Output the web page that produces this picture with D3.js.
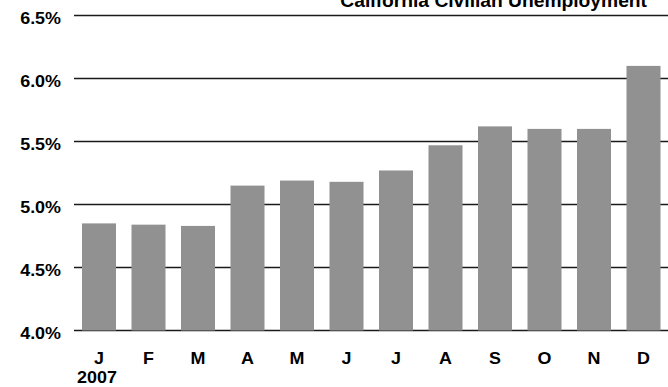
<!DOCTYPE html>
<html>
<head>
<meta charset="utf-8">
<script src="https://cdn.jsdelivr.net/npm/d3@7"></script>
<style>
  html, body { margin: 0; padding: 0; background: #fff; }
  svg { display: block; }
  text { font-family: "Liberation Sans", Arial, sans-serif; font-weight: bold; fill: #000; }
</style>
</head>
<body>
<svg id="chart" width="668" height="387"></svg>
<script>
// California civilian unemployment rate by month, 2007 (percent)
const months = ["J", "F", "M", "A", "M", "J", "J", "A", "S", "O", "N", "D"];
const monthKeys = ["Jan", "Feb", "Mar", "Apr", "May", "Jun", "Jul", "Aug", "Sep", "Oct", "Nov", "Dec"];
const rates = [4.85, 4.84, 4.83, 5.15, 5.19, 5.18, 5.27, 5.47, 5.62, 5.60, 5.60, 6.10];
const yTicks = [4.0, 4.5, 5.0, 5.5, 6.0, 6.5];
const yearLabel = "2007";
const title = "California Civilian Unemployment";

const svg = d3.select("#chart");
const stretch = 1.12; // horizontal stretch applied to the axis labels

const x = d3.scaleBand()
  .domain(monthKeys)
  .range([74.25, 668.25])
  .paddingInner(0.313)
  .paddingOuter(0.1565);

const y = d3.scaleLinear()
  .domain([4.0, 6.5])
  .range([330.5, 15.5]);

// horizontal gridlines
svg.append("g")
  .selectAll("line")
  .data(yTicks)
  .join("line")
  .attr("x1", 74)
  .attr("x2", 668)
  .attr("y1", d => y(d))
  .attr("y2", d => y(d))
  .attr("stroke", "#1a1a1a")
  .attr("stroke-width", 1.3);

// bars
svg.append("g")
  .selectAll("rect")
  .data(rates)
  .join("rect")
  .attr("x", (d, i) => x(monthKeys[i]))
  .attr("width", x.bandwidth())
  .attr("y", d => y(d))
  .attr("height", d => y(4.0) - y(d))
  .attr("fill", "#919191");

// y-axis labels
svg.append("g")
  .selectAll("g")
  .data(yTicks)
  .join("g")
  .attr("transform", d => `translate(61,${y(d) + 8}) scale(${stretch},1)`)
  .append("text")
  .attr("text-anchor", "end")
  .attr("font-size", 16)
  .text(d => d3.format(".1f")(d) + "%");

// month labels
svg.append("g")
  .selectAll("g")
  .data(months)
  .join("g")
  .attr("transform", (d, i) => `translate(${x(monthKeys[i]) + x.bandwidth() / 2},363.5) scale(${stretch},1)`)
  .append("text")
  .attr("text-anchor", "middle")
  .attr("font-size", 16)
  .text(d => d);

// year under the first month
svg.append("g")
  .attr("transform", `translate(${x(monthKeys[0]) + x.bandwidth() / 2 - 2},382.5) scale(${stretch},1)`)
  .append("text")
  .attr("text-anchor", "middle")
  .attr("font-size", 16)
  .text(yearLabel);

// title, clipped by the top edge
svg.append("g")
  .attr("transform", "translate(647,7) scale(1.1,1)")
  .append("text")
  .attr("text-anchor", "end")
  .attr("font-size", 17.5)
  .text(title);
</script>
</body>
</html>
